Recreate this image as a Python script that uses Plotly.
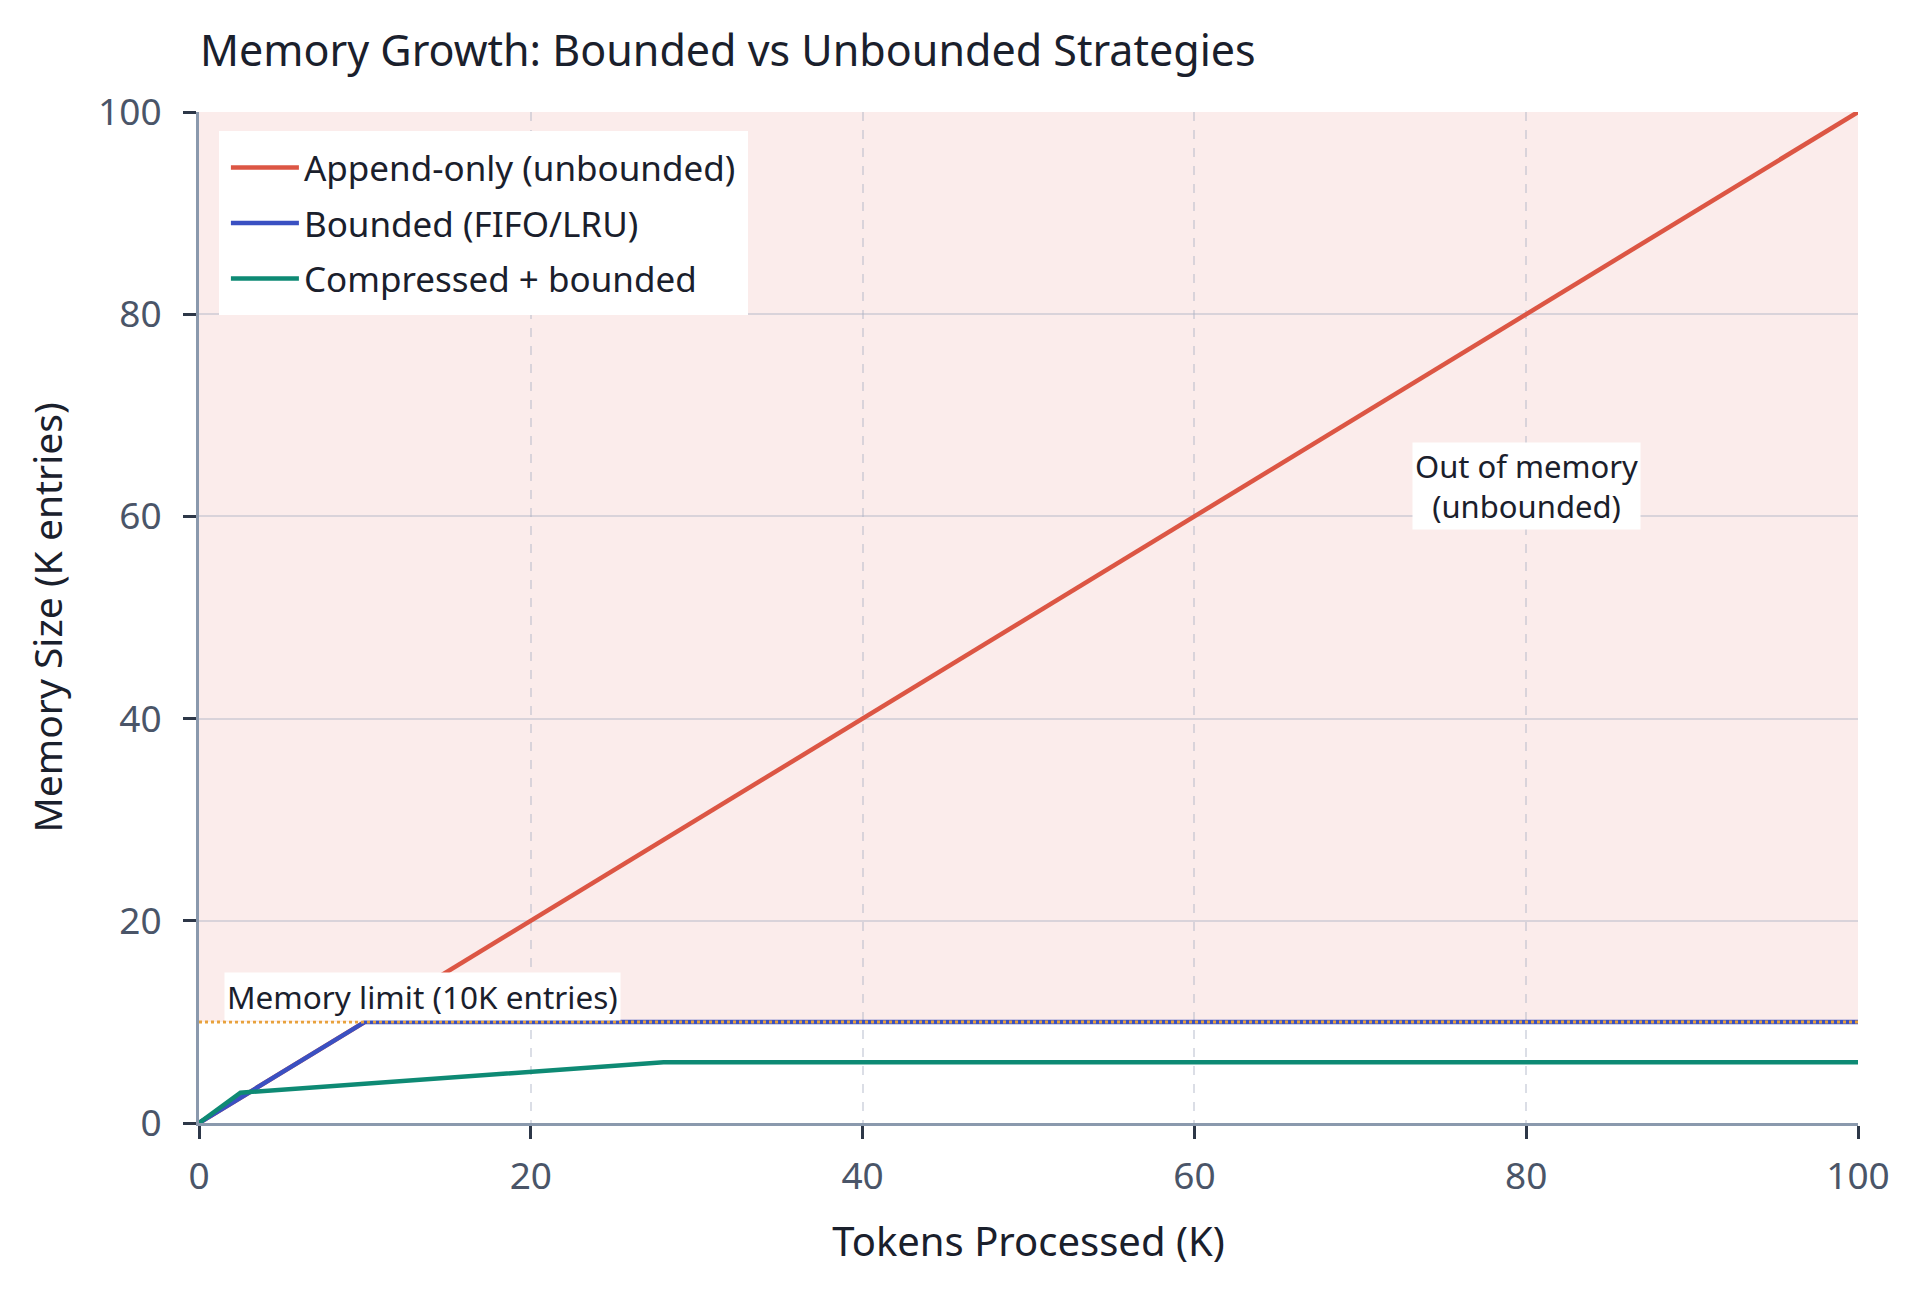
import plotly.graph_objects as go

# data (K tokens -> K entries)
append_x = [0, 100]
append_y = [0, 100]
bounded_x = [0, 10, 100]
bounded_y = [0, 10, 10]
compressed_x = [0, 2.5, 28, 100]
compressed_y = [0, 3, 6, 6]
memory_limit = 10
x_ticks = [0, 20, 40, 60, 80, 100]
y_ticks = [0, 20, 40, 60, 80, 100]

FONT = 'Noto Sans'
INK = '#1a202c'
TICK_INK = '#4a5568'
SPINE = '#8a99ad'
GRID = 'rgba(170,176,196,0.42)'

RED = '#dc5644'
BLUE = '#3a50c2'
TEAL = '#0e8a74'
ORANGE = '#e8a23c'

def line(xs, ys, name, color):
  return go.Scatter(x=xs, y=ys, name=name, mode='lines', legendgroup=name,
                    line=dict(color=color, width=4.5))

fig = go.Figure()
fig.add_trace(line(append_x, append_y, 'Append-only (unbounded)', RED))
fig.add_trace(line(bounded_x, bounded_y, 'Bounded (FIFO/LRU)', BLUE))
fig.add_trace(line(compressed_x, compressed_y, 'Compressed + bounded', TEAL))
fig.add_trace(go.Scatter(
  x=[x_ticks[0], x_ticks[-1]], y=[memory_limit, memory_limit], mode='lines',
  line=dict(color=ORANGE, width=3, dash='dot'), showlegend=False, hoverinfo='skip',
))

# out-of-memory zone above the limit
fig.add_shape(type='rect', xref='x', yref='y', x0=x_ticks[0], x1=x_ticks[-1],
              y0=memory_limit, y1=y_ticks[-1], fillcolor='rgba(220,80,70,0.11)',
              line_width=0, layer='below')

fig.add_annotation(x=1.5, y=memory_limit, xanchor='left', yanchor='bottom',
                   text='Memory limit (10K entries)', showarrow=False,
                   bgcolor='white', borderpad=2, yshift=1,
                   font=dict(family=FONT, size=31.5, color=INK))
fig.add_annotation(x=80, y=63, xanchor='center', yanchor='middle',
                   text='Out of memory<br>(unbounded)', showarrow=False,
                   bgcolor='white', borderpad=2, align='center',
                   font=dict(family=FONT, size=31, color=INK))

axis_common = dict(
  showline=True, linecolor=SPINE, linewidth=3,
  ticks='outside', ticklen=13, tickwidth=3, tickcolor='#2d3748',
  tickfont=dict(family=FONT, size=37, color=TICK_INK),
  gridcolor=GRID, gridwidth=2, zeroline=False, range=[0, 100],
  automargin=False,
)

# page body has an 8px margin, so offsets are taken 8px in
fig.update_layout(
  width=1920, height=1292,
  margin=dict(l=191, r=70, t=104, b=177),
  paper_bgcolor='white', plot_bgcolor='white',
  font=dict(family=FONT, color=INK),
  title=dict(text='Memory Growth: Bounded vs Unbounded Strategies',
             x=192/1920, xanchor='left', y=1 - 43/1292, yanchor='middle',
             font=dict(family=FONT, size=43, color=INK)),
  xaxis=dict(axis_common, tickvals=x_ticks, griddash='dash', ticklabelstandoff=6,
             title=dict(text='Tokens Processed (K)', standoff=29,
                        font=dict(family=FONT, size=40, color=INK))),
  yaxis=dict(axis_common, tickvals=y_ticks, ticklabelstandoff=14,
             title=dict(text='Memory Size (K entries)', standoff=24,
                        font=dict(family=FONT, size=39, color=INK))),
  legend=dict(x=0.012, y=0.981, xanchor='left', yanchor='top',
              bgcolor='white', bordercolor='white', borderwidth=7,
              font=dict(family=FONT, size=35, color=INK),
              tracegroupgap=7, itemwidth=68),
  showlegend=True,
)

fig.write_html('out.html')
